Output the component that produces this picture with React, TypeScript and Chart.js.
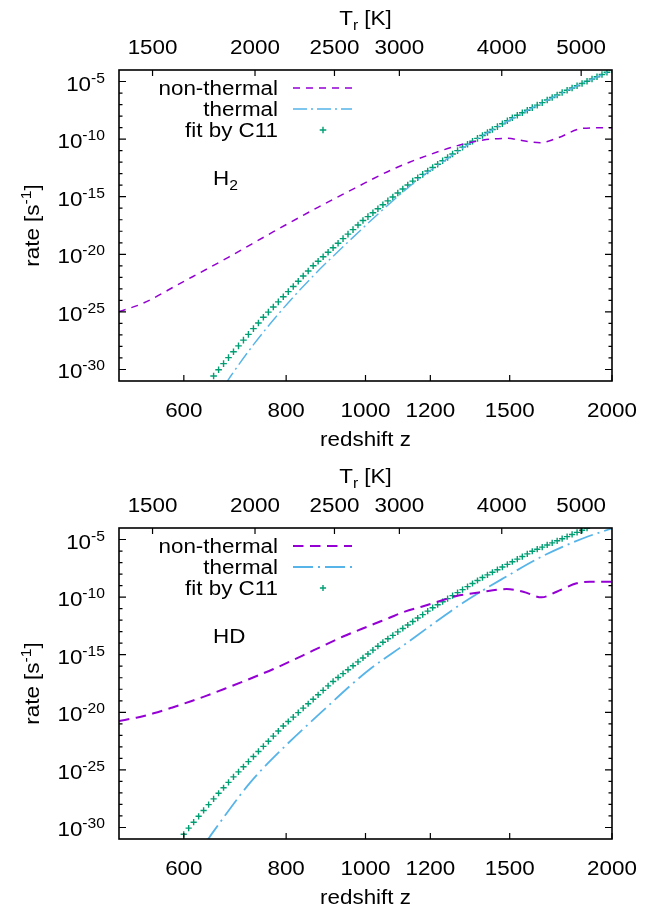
import React, { useEffect, useRef } from "react";
import { Chart, registerables } from "chart.js";

Chart.register(...registerables);

// ---------------- data ----------------
const T_CMB = 2.725; // T_r = T_CMB * (1 + z)
const Z_MIN = 500;
const Z_MAX = 2000;
const RATE_MIN = 1e-31;
const RATE_MAX = 1e-4;
const Z_TICKS = [600, 800, 1000, 1200, 1500, 2000];
const T_TICKS = [1500, 2000, 2500, 3000, 4000, 5000];
const RATE_TICK_EXPONENTS = [-30, -29, -28, -27, -26, -25, -24, -23, -22, -21, -20, -19, -18, -17, -16, -15, -14, -13, -12, -11, -10, -9, -8, -7, -6, -5];
const RATE_LABEL_EXPONENTS = [-30, -25, -20, -15, -10, -5];

// redshifts of the C11 fit samples
const FIT_Z = [
  599.8, 608.2, 616.8, 625.5, 634.3, 643.3, 652.4, 661.6, 670.9, 680.3,
  689.9, 699.7, 709.5, 719.5, 729.7, 740.0, 750.4, 761.0, 771.7, 782.6,
  793.6, 804.8, 816.2, 827.7, 839.3, 851.2, 863.2, 875.3, 887.7, 900.2,
  912.9, 925.8, 938.8, 952.0, 965.5, 979.1, 992.9, 1006.9, 1021.1, 1035.5,
  1050.1, 1064.9, 1079.9, 1095.1, 1110.6, 1126.2, 1142.1, 1158.2, 1174.5, 1191.1,
  1207.9, 1224.9, 1242.2, 1259.7, 1277.5, 1295.5, 1313.8, 1332.3, 1351.1, 1370.1,
  1389.5, 1409.1, 1428.9, 1449.1, 1469.5, 1490.2, 1511.2, 1532.5, 1554.2, 1576.1,
  1598.3, 1620.8, 1643.7, 1666.9, 1690.4, 1714.2, 1738.4, 1762.9, 1787.7, 1812.9,
  1838.5, 1864.4, 1890.7, 1917.4, 1944.4, 1971.8, 2000.0,
];

// log10(rate [s^-1]) ---- H2 panel
const H2_FIT_LOG = [
  null, null, null, null, null, null, -30.56, -30.02, -29.49, -28.97,
  -28.46, -27.95, -27.45, -26.95, -26.45, -25.96, -25.47, -25.02, -24.58, -24.13,
  -23.68, -23.24, -22.79, -22.34, -21.89, -21.45, -21.0, -20.61, -20.21, -19.82,
  -19.43, -19.04, -18.64, -18.25, -17.86, -17.46, -17.07, -16.73, -16.39, -16.04,
  -15.7, -15.36, -15.02, -14.68, -14.33, -13.99, -13.65, -13.36, -13.06, -12.77,
  -12.47, -12.18, -11.88, -11.59, -11.29, -11.0, -10.7, -10.45, -10.19, -9.94,
  -9.68, -9.43, -9.17, -8.92, -8.66, -8.41, -8.15, -7.93, -7.71, -7.49,
  -7.27, -7.05, -6.83, -6.61, -6.39, -6.17, -5.95, -5.76, -5.56, -5.37,
  -5.17, -4.98, -4.78, -4.59, -4.39, -4.2, -4.0,
];
const H2_NONTHERMAL_Z = [500, 535, 594, 680, 772, 876, 971, 1081, 1204, 1304, 1393, 1487, 1558, 1634, 1712, 1845, 2000];
const H2_NONTHERMAL_LOG = [-24.98, -24.25, -22.52, -20.26, -18.04, -15.9, -14.25, -12.6, -11.29, -10.51, -10.08, -9.93, -10.14, -10.31, -9.93, -9.06, -9.01];
const H2_THERMAL_Z = [674, 686, 729, 790, 864, 950, 1051, 1155, 1268, 1350, 1450, 1600, 1800, 2000];
const H2_THERMAL_LOG = [-31.3, -30.48, -27.89, -24.85, -21.85, -19.0, -16.1, -13.6, -11.54, -10.24, -8.93, -7.27, -5.48, -4.02];

// log10(rate [s^-1]) ---- HD panel
const HD_FIT_LOG = [
  -30.59, -30.06, -29.54, -29.03, -28.52, -28.02, -27.52, -27.03, -26.55, -26.08,
  -25.61, -25.17, -24.73, -24.28, -23.84, -23.4, -22.96, -22.52, -22.07, -21.63,
  -21.19, -20.8, -20.42, -20.03, -19.64, -19.26, -18.87, -18.48, -18.1, -17.71,
  -17.32, -16.98, -16.64, -16.3, -15.96, -15.62, -15.28, -14.94, -14.6, -14.26,
  -13.92, -13.62, -13.32, -13.02, -12.72, -12.42, -12.12, -11.82, -11.52, -11.22,
  -10.92, -10.66, -10.4, -10.13, -9.87, -9.61, -9.35, -9.09, -8.82, -8.56,
  -8.3, -8.07, -7.84, -7.62, -7.39, -7.16, -6.93, -6.7, -6.48, -6.25,
  -6.02, -5.84, -5.66, -5.47, -5.29, -5.11, -4.93, -4.75, -4.56, -4.38,
  -4.2, -4.02, null, null, null, null, null,
];
const HD_NONTHERMAL_Z = [500, 525, 551, 580, 611, 640, 673, 709, 743, 772, 809, 848, 888, 939, 1013, 1066, 1117, 1171, 1233, 1292, 1354, 1419, 1487, 1558, 1641, 1712, 1811, 1879, 2000];
const HD_NONTHERMAL_LOG = [-20.75, -20.47, -20.09, -19.6, -19.06, -18.55, -17.96, -17.33, -16.74, -16.24, -15.59, -14.9, -14.22, -13.42, -12.47, -11.84, -11.26, -10.83, -10.34, -9.9, -9.67, -9.44, -9.3, -9.53, -10.02, -9.53, -8.8, -8.66, -8.66];
const HD_THERMAL_Z = [639, 652, 723, 795, 884, 957, 1013, 1079, 1112, 1199, 1317, 1473, 1641, 1845, 2000];
const HD_THERMAL_LOG = [-31.25, -30.36, -26.11, -23.04, -19.97, -17.72, -16.24, -14.85, -14.2, -12.51, -10.47, -8.37, -6.49, -4.89, -4.03];

const LEGEND_LABELS = ["non-thermal", "thermal", "fit by C11"];

// ---------------- styling ----------------
const FONT = '"Liberation Sans", Arial, Helvetica, sans-serif';
const HSCALE = 1.12;
const BASE = 20;
const SMALL = 14;
const PURPLE = "#9400d3";
const BLUE = "#56b4e9";
const GREEN = "#009e73";

type Seg = { text: string; size: number; rise?: number };

function segWidth(ctx: CanvasRenderingContext2D, s: Seg) {
  ctx.font = `${s.size}px ${FONT}`;
  return ctx.measureText(s.text).width * HSCALE;
}

function drawRich(ctx: CanvasRenderingContext2D, segs: Seg[], x: number, y: number, align: "left" | "right" | "center", rotate = 0) {
  const total = segs.reduce((w, s) => w + segWidth(ctx, s), 0);
  let cx = align === "left" ? 0 : align === "right" ? -total : -total / 2;
  ctx.save();
  ctx.translate(x, y);
  if (rotate) ctx.rotate(rotate);
  ctx.fillStyle = "#000";
  ctx.textAlign = "left";
  ctx.textBaseline = "alphabetic";
  for (const s of segs) {
    const w = segWidth(ctx, s);
    ctx.save();
    ctx.translate(cx, -(s.rise || 0));
    ctx.scale(HSCALE, 1);
    ctx.font = `${s.size}px ${FONT}`;
    ctx.fillText(s.text, 0, 0);
    ctx.restore();
    cx += w;
  }
  ctx.restore();
}

type PanelCfg = {
  key: string;
  top: number;
  height: number;
  species: Seg[];
  fit: (number | null)[];
  ntZ: number[];
  ntLog: number[];
  thZ: number[];
  thLog: number[];
  ntDash: number[];
  ntWidth: number;
  thDash: number[];
  thWidth: number;
  markR: number;
};

const PLOT_TOP = 70;
const PLOT_BOTTOM = 381;
const PLOT_LEFT = 119;
const PLOT_RIGHT_PAD = 43;

const PANELS: PanelCfg[] = [
  {
    key: "h2",
    top: 0,
    height: 458,
    species: [{ text: "H", size: BASE }, { text: "2", size: SMALL, rise: -5 }],
    fit: H2_FIT_LOG,
    ntZ: H2_NONTHERMAL_Z,
    ntLog: H2_NONTHERMAL_LOG,
    thZ: H2_THERMAL_Z,
    thLog: H2_THERMAL_LOG,
    ntDash: [7, 6],
    ntWidth: 1.5,
    thDash: [14, 4, 2, 4],
    thWidth: 1.4,
    markR: 3.3,
  },
  {
    key: "hd",
    top: 458,
    height: 449,
    species: [{ text: "HD", size: BASE }],
    fit: HD_FIT_LOG,
    ntZ: HD_NONTHERMAL_Z,
    ntLog: HD_NONTHERMAL_LOG,
    thZ: HD_THERMAL_Z,
    thLog: HD_THERMAL_LOG,
    ntDash: [10.5, 6.5],
    ntWidth: 2,
    thDash: [20, 5, 2, 5],
    thWidth: 1.8,
    markR: 3.1,
  },
];

function overlayPlugin(cfg: PanelCfg) {
  return {
    id: "gnuplotOverlay",
    afterDatasetsDraw(chart: any) {
      const ctx: CanvasRenderingContext2D = chart.ctx;
      const a = chart.chartArea;
      const xs = chart.scales.x;
      const ys = chart.scales.y;
      const ds = chart.data.datasets;
      ctx.save();
      ctx.setLineDash([]);
      ctx.strokeStyle = "#000";
      ctx.lineWidth = 1.2;
      ctx.beginPath();
      for (const e of RATE_TICK_EXPONENTS) {
        const py = ys.getPixelForValue(Math.pow(10, e));
        const len = e % 5 === 0 ? 7 : 3.5;
        ctx.moveTo(a.left, py);
        ctx.lineTo(a.left + len, py);
        ctx.moveTo(a.right, py);
        ctx.lineTo(a.right - len, py);
      }
      for (const z of Z_TICKS) {
        const px = xs.getPixelForValue(z);
        ctx.moveTo(px, a.bottom);
        ctx.lineTo(px, a.bottom - 6);
      }
      for (const T of T_TICKS) {
        const px = xs.getPixelForValue(T / T_CMB - 1);
        ctx.moveTo(px, a.top);
        ctx.lineTo(px, a.top + 6);
      }
      ctx.stroke();
      ctx.lineWidth = 1.6;
      ctx.strokeRect(a.left, a.top, a.right - a.left, a.bottom - a.top);

      // y tick labels
      for (const e of RATE_LABEL_EXPONENTS) {
        const py = ys.getPixelForValue(Math.pow(10, e));
        drawRich(ctx, [{ text: "10", size: BASE }, { text: String(e), size: SMALL, rise: 8 }], a.left - 14, py + 9, "right");
      }
      // bottom tick labels
      for (const z of Z_TICKS) {
        drawRich(ctx, [{ text: String(z), size: BASE }], xs.getPixelForValue(z), a.bottom + 36, "center");
      }
      // top tick labels
      for (const T of T_TICKS) {
        drawRich(ctx, [{ text: String(T), size: BASE }], xs.getPixelForValue(T / T_CMB - 1), a.top - 16, "center");
      }
      const cx = (a.left + a.right) / 2;
      const cy = (a.top + a.bottom) / 2;
      drawRich(ctx, [{ text: "redshift z", size: BASE }], cx, a.bottom + 65, "center");
      drawRich(ctx, [{ text: "T", size: BASE }, { text: "r", size: SMALL, rise: -5 }, { text: " [K]", size: BASE }], cx, a.top - 45, "center");
      drawRich(ctx, [{ text: "rate [s", size: BASE }, { text: "-1", size: SMALL, rise: 8 }, { text: "]", size: BASE }], 39, cy, "center", -Math.PI / 2);
      drawRich(ctx, cfg.species, a.left + 94, a.top + 115, "left");

      // legend
      for (let k = 0; k < 3; k++) {
        const base = a.top + 25 + 21 * k;
        drawRich(ctx, [{ text: ds[k].label, size: BASE }], a.left + 159, base, "right");
        const sy = base - 7;
        const d = ds[k];
        if (k < 2) {
          ctx.setLineDash(d.borderDash);
          ctx.strokeStyle = d.borderColor;
          ctx.lineWidth = d.borderWidth;
          ctx.beginPath();
          ctx.moveTo(a.left + 174, sy);
          ctx.lineTo(a.left + 233, sy);
          ctx.stroke();
        } else {
          ctx.setLineDash([]);
          ctx.strokeStyle = d.pointBorderColor;
          ctx.lineWidth = d.pointBorderWidth;
          const mx = a.left + 204;
          const r = d.pointRadius;
          ctx.beginPath();
          ctx.moveTo(mx - r, sy);
          ctx.lineTo(mx + r, sy);
          ctx.moveTo(mx, sy - r);
          ctx.lineTo(mx, sy + r);
          ctx.stroke();
        }
      }
      ctx.restore();
    },
  };
}

function Panel({ cfg }: { cfg: PanelCfg }) {
  const ref = useRef<HTMLCanvasElement | null>(null);
  useEffect(() => {
    if (!ref.current) return;
    const h = cfg.height;
    const axisCommon = {
      ticks: { display: false },
      grid: { display: false, drawTicks: false },
      border: { display: false },
    };
    const chart = new Chart(ref.current, {
      type: "line",
      data: {
        datasets: [
          {
            label: LEGEND_LABELS[0],
            data: cfg.ntZ.map((z, i) => ({ x: z, y: Math.pow(10, cfg.ntLog[i]) })),
            borderColor: PURPLE,
            borderWidth: cfg.ntWidth,
            borderDash: cfg.ntDash,
            pointRadius: 0,
            cubicInterpolationMode: "monotone",
            fill: false,
          },
          {
            label: LEGEND_LABELS[1],
            data: cfg.thZ.map((z, i) => ({ x: z, y: Math.pow(10, cfg.thLog[i]) })),
            borderColor: BLUE,
            borderWidth: cfg.thWidth,
            borderDash: cfg.thDash,
            pointRadius: 0,
            cubicInterpolationMode: "monotone",
            fill: false,
          },
          {
            label: LEGEND_LABELS[2],
            data: FIT_Z.map((z, i) => ({ x: z, y: cfg.fit[i] === null ? null : Math.pow(10, cfg.fit[i] as number) })),
            showLine: false,
            pointStyle: "cross",
            pointRadius: cfg.markR,
            pointBorderWidth: 1.4,
            pointBorderColor: GREEN,
            pointBackgroundColor: GREEN,
            borderColor: GREEN,
          },
        ] as any,
      },
      options: {
        responsive: false,
        animation: false,
        devicePixelRatio: 1,
        events: [],
        layout: { padding: { left: 0, right: PLOT_RIGHT_PAD, top: 0, bottom: 0 } },
        plugins: { legend: { display: false }, tooltip: { enabled: false } },
        scales: {
          x: {
            type: "logarithmic",
            position: "bottom",
            min: Z_MIN,
            max: Z_MAX,
            ...axisCommon,
            afterFit: (s: any) => {
              s.height = h - PLOT_BOTTOM;
            },
          },
          x2: {
            type: "logarithmic",
            position: "top",
            min: Z_MIN,
            max: Z_MAX,
            ...axisCommon,
            afterFit: (s: any) => {
              s.height = PLOT_TOP;
            },
          },
          y: {
            type: "logarithmic",
            position: "left",
            min: RATE_MIN,
            max: RATE_MAX,
            ...axisCommon,
            afterFit: (s: any) => {
              s.width = PLOT_LEFT;
            },
          },
        } as any,
      },
      plugins: [overlayPlugin(cfg)],
    });
    return () => chart.destroy();
  }, [cfg]);
  return (
    <canvas
      ref={ref}
      width={655}
      height={cfg.height}
      style={{ position: "absolute", left: 0, top: cfg.top, width: 655, height: cfg.height, display: "block" }}
    />
  );
}

export default function App() {
  return (
    <div style={{ position: "absolute", left: 0, top: 0, width: 655, height: 907, background: "#fff", overflow: "hidden" }}>
      {PANELS.map((p) => (
        <Panel key={p.key} cfg={p} />
      ))}
    </div>
  );
}
